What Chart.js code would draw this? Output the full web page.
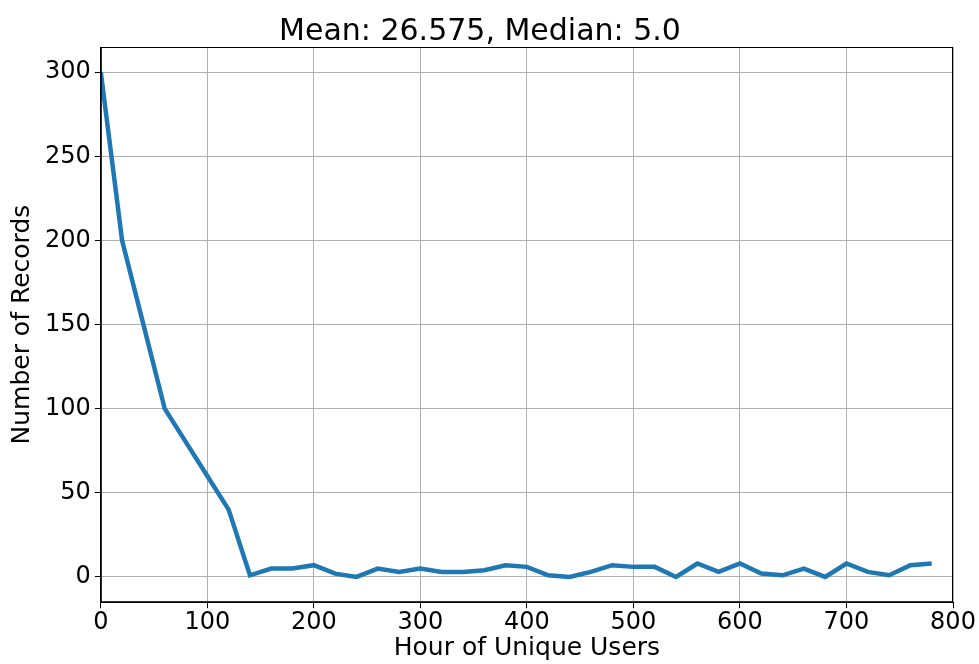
<!DOCTYPE html>
<html>
<head>
<meta charset="utf-8">
<script src="https://cdn.jsdelivr.net/npm/chart.js@4"></script>
<style>
  html, body { margin: 0; padding: 0; background: #fff; }
  #wrap { width: 979px; height: 664px; }
</style>
</head>
<body>
<div id="wrap"><canvas id="chart" width="979" height="664"></canvas></div>
<script>
// hours (x) and record counts (y)
const hours = [0, 20, 40, 60, 80, 100, 120, 140, 160, 180, 200, 220, 240, 260, 280, 300, 320, 340, 360, 380,
               400, 420, 440, 460, 480, 500, 520, 540, 560, 580, 600, 620, 640, 660, 680, 700, 720, 740, 760, 780];
const records = [300, 200, 150, 100, 80, 60, 40, 1, 5, 5, 7, 2, 0, 5, 3, 5, 3, 3, 4, 7,
                 6, 1, 0, 3, 7, 6, 6, 0, 8, 3, 8, 2, 1, 5, 0, 8, 3, 1, 7, 8];
const xTicks = [0, 100, 200, 300, 400, 500, 600, 700, 800];
const yTicks = [0, 50, 100, 150, 200, 250, 300];

const font = "'DejaVu Sans', sans-serif";

// black frame round the plot area, like matplotlib spines
const frame = {
    id: 'frame',
    afterDraw(chart) {
        const { ctx, chartArea: a } = chart;
        ctx.save();
        ctx.strokeStyle = '#000';
        ctx.lineWidth = 1;
        ctx.strokeRect(a.left + 0.5, a.top + 0.5, a.right - a.left - 1, a.bottom - a.top - 1);
        ctx.restore();
    }
};

new Chart(document.getElementById('chart'), {
    type: 'line',
    data: {
        datasets: [{
            data: hours.map((h, i) => ({ x: h, y: records[i] })),
            borderColor: '#1f77b4',
            borderWidth: 4.5,
            pointRadius: 0,
            tension: 0,
            fill: false
        }]
    },
    options: {
        responsive: false,
        animation: false,
        layout: { padding: { left: 7, right: 26, top: 12, bottom: 1 } },
        plugins: {
            legend: { display: false },
            tooltip: { enabled: false },
            title: {
                display: true,
                text: 'Mean: 26.575, Median: 5.0',
                color: '#000',
                font: { family: font, size: 30, weight: 'normal' },
                padding: { top: 2, bottom: -3 }
            }
        },
        scales: {
            x: {
                type: 'linear',
                min: 0,
                max: 800,
                afterBuildTicks: s => { s.ticks = xTicks.map(v => ({ value: v })); },
                grid: { color: '#b0b0b0', lineWidth: 1, tickLength: 6, tickColor: '#000' },
                border: { color: '#000' },
                ticks: { color: '#000', font: { family: font, size: 24 }, padding: 0, maxRotation: 0 },
                title: { display: true, text: 'Hour of Unique Users', color: '#000',
                         font: { family: font, size: 25 }, padding: { top: -4, bottom: 0 } }
            },
            y: {
                min: -15,
                max: 315,
                afterBuildTicks: s => { s.ticks = yTicks.map(v => ({ value: v })); },
                grid: { color: '#b0b0b0', lineWidth: 1, tickLength: 6, tickColor: '#000' },
                border: { color: '#000' },
                ticks: { color: '#000', font: { family: font, size: 24 }, padding: 4 },
                title: { display: true, text: 'Number of Records', color: '#000',
                         font: { family: font, size: 25 }, padding: { top: 0, bottom: 4 } }
            }
        }
    },
    plugins: [frame]
});
</script>
</body>
</html>
